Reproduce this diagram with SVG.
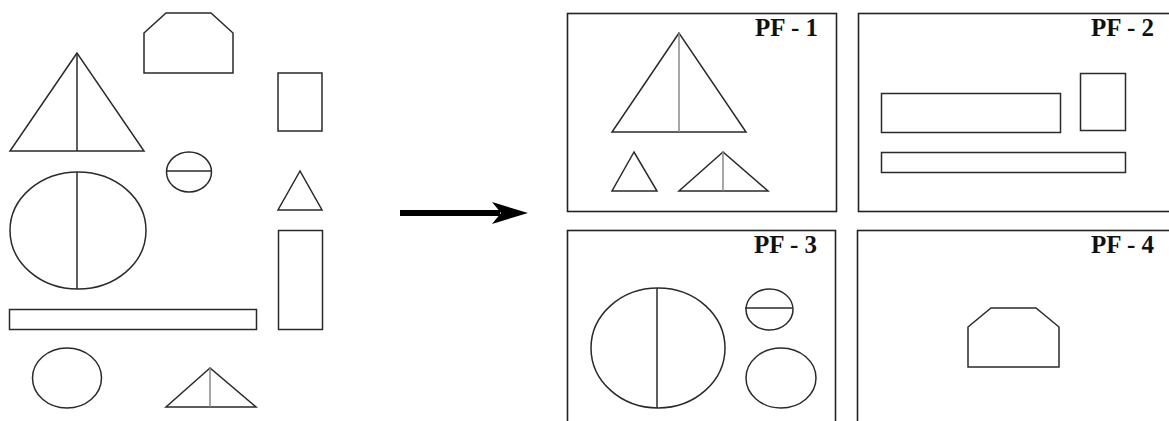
<svg xmlns="http://www.w3.org/2000/svg" width="1169" height="421" viewBox="0 0 1169 421">
<style>
.s{fill:none;stroke:#2a2a2a;stroke-width:1.5}
.g{fill:none;stroke:#8a8a8a;stroke-width:1.5}
.box{fill:none;stroke:#222;stroke-width:1.6}
.lbl{font-family:"Liberation Serif",serif;font-weight:bold;font-size:25px;fill:#111;text-anchor:end}
</style>
<rect width="1169" height="421" fill="#fff"/>
<g id="source">
<g id="s-octagon"><polygon class="s" points="144,33 166,13 211,13 233,33 233,73 144,73"/></g>
<g id="s-bigtri"><polygon class="s" points="77,53 10,151 144,151"/><line class="s" x1="77" y1="53" x2="77" y2="151"/></g>
<g id="s-rect1"><rect class="s" x="278" y="73" width="44" height="58"/></g>
<g id="s-smallellipse"><ellipse class="s" cx="189" cy="172" rx="22.5" ry="20"/><line class="s" x1="166" y1="171" x2="212" y2="171"/></g>
<g id="s-smalltri"><polygon class="s" points="300,171 278,210 322,210"/></g>
<g id="s-bigellipse"><ellipse class="s" cx="78" cy="230.5" rx="68" ry="58.5"/><line class="s" x1="77" y1="172" x2="77" y2="289"/></g>
<g id="s-longrect"><rect class="s" x="9.5" y="309.5" width="247" height="20"/></g>
<g id="s-tallrect"><rect class="s" x="278.5" y="230.5" width="44" height="99"/></g>
<g id="s-ellipse"><ellipse class="s" cx="67" cy="378" rx="34.5" ry="30"/></g>
<g id="s-flattri"><polygon class="s" points="210,368 166,407 256,407"/><line class="g" x1="210" y1="368" x2="210" y2="407"/></g>
</g>
<g id="connectors">
<line x1="400" y1="213" x2="500" y2="213" stroke="#000" stroke-width="6"/>
<polygon points="528,213 492,202 501,213 492,224" fill="#000"/>
</g>
<g id="pf1">
<rect class="box" x="567.5" y="13.5" width="269" height="198"/>
<text class="lbl" x="818" y="36">PF - 1</text>
<polygon class="s" points="679,33 612,132 746,132"/><line class="g" x1="679" y1="33" x2="679" y2="132"/>
<polygon class="s" points="634,152 612,191 657,191"/>
<polygon class="s" points="723,152 679,191 768,191"/><line class="g" x1="723" y1="152" x2="723" y2="191"/>
</g>
<g id="pf2">
<rect class="box" x="858.5" y="13.5" width="320" height="198"/>
<text class="lbl" x="1154" y="36">PF - 2</text>
<rect class="s" x="881.5" y="93.5" width="179" height="39"/>
<rect class="s" x="1080.5" y="73.5" width="45" height="57"/>
<rect class="s" x="881.5" y="152.5" width="244" height="20"/>
</g>
<g id="pf3">
<rect class="box" x="567.5" y="230.5" width="268" height="200"/>
<text class="lbl" x="817" y="253">PF - 3</text>
<ellipse class="s" cx="658" cy="348" rx="67" ry="60"/><line class="s" x1="657" y1="288" x2="657" y2="408"/>
<ellipse class="s" cx="769.5" cy="309.5" rx="23.5" ry="20.5"/><line class="s" x1="745" y1="308" x2="793" y2="308"/>
<ellipse class="s" cx="781" cy="378" rx="35" ry="30"/>
</g>
<g id="pf4">
<rect class="box" x="857.5" y="230.5" width="320" height="200"/>
<text class="lbl" x="1154" y="253">PF - 4</text>
<polygon class="s" points="968,327 991,308 1036,308 1059,327 1059,367 968,367"/>
</g>
</svg>
